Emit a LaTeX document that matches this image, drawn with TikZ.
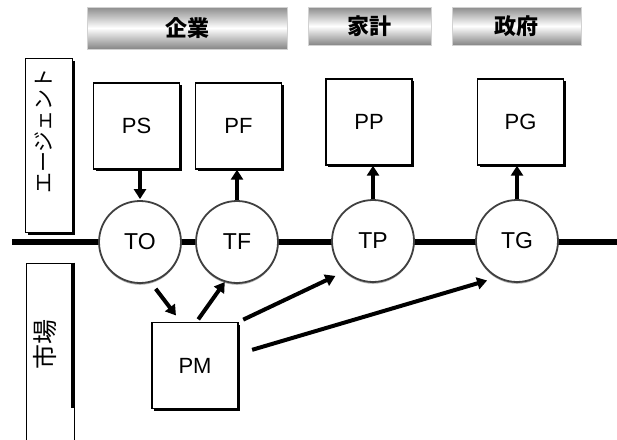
\documentclass[tikz,border=0pt]{standalone}
\usepackage{fontspec}
\setmainfont{Liberation Sans}
\newfontfamily\jp{Noto Sans CJK JP}
\usetikzlibrary{arrows.meta,shadows}
\begin{document}
\begin{tikzpicture}[x=1pt,y=-1pt,
  hdr/.style={draw=gray!35, line width=0.8pt, inner sep=0pt,
    top color=gray!90, bottom color=gray!95, middle color=white,
    font=\jp\bfseries\fontsize{22}{22}\selectfont},
  sidebox/.style={draw, line width=1pt, fill=white, inner sep=0pt},
  pbox/.style={draw, line width=1.4pt, fill=white, inner sep=0pt,
    minimum width=86pt, minimum height=86pt,
    drop shadow={shadow xshift=2.2pt, shadow yshift=-2.2pt, opacity=1, fill=black},
    font=\fontsize{22}{22}\selectfont},
  tnode/.style={circle, draw=black!75, line width=1.8pt, fill=white, inner sep=0pt,
    minimum size=82pt,
    drop shadow={shadow xshift=0pt, shadow yshift=-1.8pt, opacity=1, fill=gray!60},
    font=\fontsize{23}{23}\selectfont},
  arr/.style={line width=4pt, -{Triangle[length=10pt,width=12pt]}},
  sidetext/.style={rotate=90, inner sep=0pt, font=\jp}
]
\useasboundingbox (0,0) rectangle (617,439);

% column headers
\node[hdr, minimum width=200pt, minimum height=42pt] (hfirm) at (187,28) {企業};
\node[hdr, minimum width=123pt, minimum height=38pt] (hhouse) at (369.5,26) {家計};
\node[hdr, minimum width=129pt, minimum height=38pt] (hgov) at (516.5,26) {政府};

% side labels
\node[sidebox, minimum width=47pt, minimum height=174pt,
  drop shadow={shadow xshift=3pt, shadow yshift=-3pt, opacity=1, fill=black}]
  (agentbox) at (48.5,145) {};
\node[sidetext, font=\jp\fontsize{21}{21}\selectfont] (agenttxt) at (44,131) {エージェント};

\node[sidebox, minimum width=48pt, minimum height=182pt] (mktbox) at (50,354) {};
\draw[line width=3.5pt] ([xshift=-1.75pt]mktbox.north east) -- ++(0,145);
\node[sidetext, font=\jp\fontsize{25}{25}\selectfont] (mkttxt) at (45,344) {市場};

% market rail
\coordinate (railL) at (12,242);
\coordinate (railR) at (617,242);
\draw[line width=6pt] (railL) -- (railR);

% agents
\node[pbox] (PS) at (136.5,126) {PS};
\node[pbox] (PF) at (238.5,126) {PF};
\node[pbox] (PP) at (369,122) {PP};
\node[pbox] (PG) at (520.5,122) {PG};
\node[pbox] (PM) at (195,365.5) {PM};

% trade points on the rail
\node[tnode] (TO) at (140,242) {TO};
\node[tnode] (TF) at (237,242) {TF};
\node[tnode] (TP) at (373,241) {TP};
\node[tnode] (TG) at (517,241) {TG};

% flows between agents and trade points
\draw[arr, shorten <=1pt, shorten >=1pt] (PS.south -| TO) -- (TO.north);
\draw[arr] (TF.north) -- (TF.north |- PF.south);
\draw[arr] (TP.north) -- (TP.north |- PP.south);
\draw[arr] (TG.north) -- (TG.north |- PG.south);

\draw[arr, shorten <=8pt, shorten >=8pt] (TO.-75) -- (PM.108);
\draw[arr, shorten <=3pt] (PM.88) -- (TF.253);
\draw[arr, shorten <=5pt, shorten >=10pt] (PM.north east) -- (TP.227);
\draw[arr, shorten <=14pt, shorten >=10pt] (PM.15) -- (TG.241);
\end{tikzpicture}
\end{document}
